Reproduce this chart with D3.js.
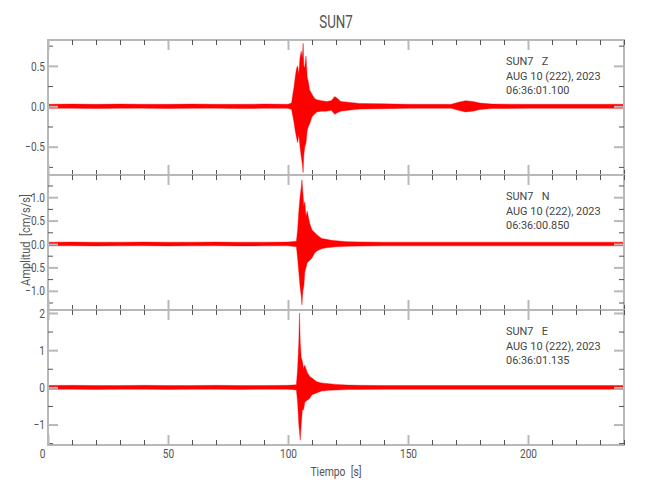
<!DOCTYPE html>
<html>
<head>
<meta charset="utf-8">
<script src="https://cdn.jsdelivr.net/npm/d3@7"></script>
<style>
  body { margin: 0; background: #fff; }
  text { font-family: Roboto, "Liberation Sans", sans-serif; }
</style>
</head>
<body>
<svg id="chart" width="650" height="500"></svg>
<script>
// station / channel info
var station = "SUN7";
var channels = ["Z", "N", "E"];
var dateLabel = "AUG 10 (222), 2023";
var startTimes = ["06:36:01.100", "06:36:00.850", "06:36:01.135"];

// envelope of each trace: time [s], upper and lower peak [cm/s/s]
var tZ  = [0, 10, 20, 30, 40, 50, 60, 70, 80, 90, 100, 101.5, 102, 102.5, 103, 103.5, 104, 104.5, 105, 105.5, 106, 106.3, 106.6, 107, 107.5, 108, 108.5, 109, 110, 111, 112, 114, 116, 118, 119.5, 120.5, 122, 125, 130, 140, 150, 160, 168, 171, 174, 177, 180, 185, 200, 220, 240];
var hiZ = [0.025, 0.028, 0.024, 0.028, 0.025, 0.024, 0.028, 0.025, 0.024, 0.028, 0.025, 0.04, 0.15, 0.24, 0.36, 0.46, 0.5, 0.4, 0.6, 0.68, 0.6, 0.78, 0.5, 0.48, 0.62, 0.36, 0.3, 0.2, 0.15, 0.1, 0.08, 0.07, 0.06, 0.07, 0.12, 0.1, 0.06, 0.05, 0.035, 0.03, 0.025, 0.025, 0.025, 0.05, 0.07, 0.06, 0.04, 0.028, 0.025, 0.025, 0.025];
var loZ = [-0.025, -0.024, -0.028, -0.025, -0.024, -0.028, -0.025, -0.024, -0.028, -0.025, -0.025, -0.04, -0.12, -0.2, -0.3, -0.38, -0.45, -0.35, -0.5, -0.62, -0.72, -0.82, -0.6, -0.5, -0.45, -0.3, -0.25, -0.22, -0.13, -0.1, -0.07, -0.06, -0.06, -0.05, -0.1, -0.08, -0.06, -0.05, -0.035, -0.03, -0.025, -0.025, -0.025, -0.05, -0.07, -0.06, -0.04, -0.028, -0.025, -0.025, -0.025];

var tN  = [0, 10, 20, 30, 40, 50, 60, 70, 80, 90, 100, 103.5, 104, 104.5, 105, 105.5, 105.8, 106.2, 106.6, 107, 107.5, 108, 109, 110, 111, 112, 114, 116, 118, 120, 125, 130, 140, 160, 180, 200, 220, 240];
var hiN = [0.038, 0.042, 0.038, 0.04, 0.042, 0.038, 0.04, 0.042, 0.038, 0.04, 0.042, 0.06, 0.3, 0.7, 1.0, 1.2, 1.37, 1.1, 0.8, 0.9, 0.6, 0.7, 0.45, 0.3, 0.25, 0.2, 0.12, 0.1, 0.08, 0.07, 0.05, 0.045, 0.04, 0.04, 0.04, 0.04, 0.04, 0.04];
var loN = [-0.04, -0.038, -0.042, -0.04, -0.038, -0.042, -0.04, -0.038, -0.042, -0.04, -0.04, -0.06, -0.3, -0.6, -0.9, -1.1, -1.3, -1.0, -0.9, -0.6, -0.5, -0.4, -0.35, -0.3, -0.2, -0.15, -0.1, -0.08, -0.07, -0.06, -0.05, -0.045, -0.04, -0.04, -0.04, -0.04, -0.04, -0.04];

var tE  = [0, 10, 20, 30, 40, 50, 60, 70, 80, 90, 100, 103.5, 104, 104.5, 104.8, 105.1, 105.5, 106, 106.5, 107, 108, 109, 110, 112, 114, 117, 120, 125, 130, 140, 160, 180, 200, 220, 240];
var hiE = [0.05, 0.055, 0.05, 0.05, 0.055, 0.05, 0.05, 0.055, 0.05, 0.05, 0.055, 0.07, 0.5, 1.2, 2.0, 1.2, 0.8, 0.7, 0.5, 0.6, 0.4, 0.3, 0.25, 0.15, 0.12, 0.1, 0.08, 0.06, 0.055, 0.05, 0.05, 0.05, 0.05, 0.05, 0.05];
var loE = [-0.05, -0.05, -0.055, -0.05, -0.05, -0.055, -0.05, -0.05, -0.055, -0.05, -0.05, -0.07, -0.4, -1.0, -1.2, -1.42, -1.0, -0.6, -0.6, -0.4, -0.35, -0.3, -0.2, -0.15, -0.1, -0.08, -0.07, -0.06, -0.055, -0.05, -0.05, -0.05, -0.05, -0.05, -0.05];

// axis domains and ticks
var xDomain = [0, 240];
var xMajor = [0, 50, 100, 150, 200];
var yDomains = [[-0.85, 0.82], [-1.41, 1.474], [-1.55, 2.08]];
var yMajor = [[-0.5, 0, 0.5], [-1, -0.5, 0, 0.5, 1], [-1, 0, 1, 2]];
var yMinorStep = [0.25, 0.25, 0.5];
var yFormats = [".1f", ".1f", "d"];

var traces = [[tZ, hiZ, loZ], [tN, hiN, loN], [tE, hiE, loE]];

var svg = d3.select("#chart");
var left = 48, right = 624, top0 = 40, panelH = 135;
var axisGrey = "#b8b8b8", tickDark = "#555", textCol = "#555";

var x = d3.scaleLinear().domain(xDomain).range([left, right]);
var xMinor = d3.range(0, 241, 10).filter(function(d) { return xMajor.indexOf(d) < 0; });

// squeeze text horizontally (the original font is a narrow one)
function squeeze(sel, ratio) {
  sel.each(function() {
    var w = this.getComputedTextLength();
    if (w > 0) d3.select(this).attr("textLength", w * ratio).attr("lengthAdjust", "spacingAndGlyphs");
  });
}

// title
svg.append("text")
  .attr("x", (left + right) / 2)
  .attr("y", 28)
  .attr("text-anchor", "middle")
  .attr("fill", textCol)
  .style("font-size", "18px")
  .text(station)
  .call(squeeze, 0.74);

channels.forEach(function(ch, i) {
  var yTop = top0 + i * panelH, yBot = yTop + panelH;
  var y = d3.scaleLinear().domain(yDomains[i]).range([yBot, yTop]);
  var g = svg.append("g");

  var minor = d3.range(Math.ceil(yDomains[i][0] / yMinorStep[i]) * yMinorStep[i], yDomains[i][1], yMinorStep[i])
    .filter(function(v) { return yMajor[i].every(function(m) { return Math.abs(m - v) > 1e-6; }); });

  // trace as a filled envelope
  var t = traces[i][0], hi = traces[i][1], lo = traces[i][2];
  var idx = d3.range(t.length);
  var area = d3.area()
    .x(function(k) { return x(t[k]); })
    .y0(function(k) { return y(lo[k]); })
    .y1(function(k) { return y(hi[k]); });
  g.append("path")
    .attr("d", area(idx))
    .attr("fill", "#ff0000")
    .attr("stroke", "#ff0000")
    .attr("stroke-width", 0.4);

  // frame
  g.append("rect")
    .attr("x", left).attr("y", yTop)
    .attr("width", right - left).attr("height", panelH)
    .attr("fill", "none")
    .attr("stroke", axisGrey)
    .attr("stroke-width", 2);

  // y axes (ticks inward)
  var fmt = d3.format(yFormats[i]);
  g.append("g").attr("class", "major").attr("transform", "translate(" + left + ",0)")
    .call(d3.axisLeft(y).tickValues(yMajor[i]).tickSize(-10).tickPadding(3).tickFormat(fmt));
  g.append("g").attr("transform", "translate(" + left + ",0)")
    .call(d3.axisLeft(y).tickValues(minor).tickSize(-5).tickFormat(""));
  g.append("g").attr("class", "major").attr("transform", "translate(" + right + ",0)")
    .call(d3.axisRight(y).tickValues(yMajor[i]).tickSize(-10).tickFormat(""));
  g.append("g").attr("transform", "translate(" + right + ",0)")
    .call(d3.axisRight(y).tickValues(minor).tickSize(-5).tickFormat(""));

  // x axes at top and bottom of each panel
  g.append("g").attr("class", "major").attr("transform", "translate(0," + yTop + ")")
    .call(d3.axisTop(x).tickValues(xMajor).tickSize(-10).tickFormat(""));
  g.append("g").attr("transform", "translate(0," + yTop + ")")
    .call(d3.axisTop(x).tickValues(xMinor).tickSize(-5).tickFormat(""));
  var xb = g.append("g").attr("class", "major").attr("transform", "translate(0," + yBot + ")")
    .call(d3.axisBottom(x).tickValues(xMajor).tickSize(-10).tickPadding(4)
      .tickFormat(i === 2 ? d3.format("d") : ""));
  g.append("g").attr("transform", "translate(0," + yBot + ")")
    .call(d3.axisBottom(x).tickValues(xMinor).tickSize(-5).tickFormat(""));
  if (i === 2) {
    xb.selectAll(".tick text").filter(function(d) { return d === 0; }).attr("dx", -6);
  }

  // channel header
  var hdr = g.append("text")
    .attr("fill", "#444")
    .style("font-size", "11.5px")
    .style("white-space", "pre");
  [station + "   " + ch, dateLabel, startTimes[i]].forEach(function(s, k) {
    hdr.append("tspan").attr("x", 506).attr("y", yTop + 25 + k * 14.5).text(s);
  });
  squeeze(hdr.selectAll("tspan"), 0.95);
});

// axis styling
svg.selectAll(".domain").remove();
svg.selectAll(".tick line").attr("stroke", tickDark).attr("stroke-width", 1);
svg.selectAll(".major .tick line").attr("stroke", axisGrey).attr("stroke-width", 2);
svg.selectAll(".tick text")
  .attr("fill", textCol)
  .style("font-size", "13px")
  .style("font-family", null)
  .call(squeeze, 0.78);

// axis titles
svg.append("text")
  .attr("x", (left + right) / 2)
  .attr("y", 476)
  .attr("text-anchor", "middle")
  .attr("fill", textCol)
  .style("font-size", "13px")
  .style("white-space", "pre")
  .text("Tiempo  [s]")
  .call(squeeze, 0.8);

svg.append("text")
  .attr("transform", "translate(30,240) rotate(-90)")
  .attr("text-anchor", "middle")
  .attr("fill", textCol)
  .style("font-size", "13px")
  .style("white-space", "pre")
  .text("Amplitud  [cm/s/s]")
  .call(squeeze, 0.85);
</script>
</body>
</html>
